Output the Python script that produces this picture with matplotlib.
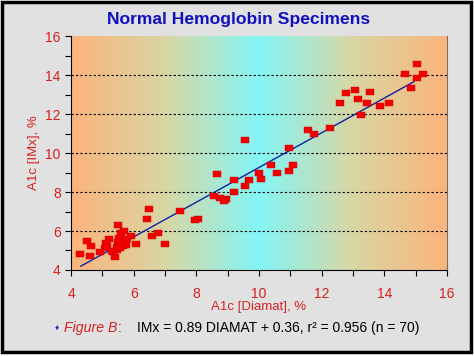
import numpy as np
import matplotlib.pyplot as plt
from matplotlib.colors import LinearSegmentedColormap
from matplotlib.patches import Rectangle
from matplotlib.path import Path

# A1c by Diamat (x) and by IMx (y)
diamat = [14.67, 15.05, 15.25, 15.05, 14.86, 12.78, 13.05, 13.54, 13.16, 12.57,
          13.46, 13.86, 14.16, 13.27, 12.25, 11.57, 11.76,
          9.56, 10.95, 11.08, 10.37, 9.99, 10.57, 10.95, 10.07, 8.67, 9.19,
          9.68, 9.56, 9.19, 8.56, 8.75, 8.96, 8.88, 7.47, 8.05, 7.95,
          6.50, 6.41, 5.49, 5.70, 5.58, 5.91, 6.57, 6.78, 6.99, 6.08,
          4.50, 4.62, 5.20, 5.10, 5.08, 5.52, 5.59, 5.70, 5.65, 5.45,
          5.75, 5.50, 5.33, 5.40, 4.92, 4.61, 4.29, 5.30, 5.62, 5.45,
          5.78, 5.55, 5.15]
imx = [14.05, 14.55, 14.05, 13.83, 13.35, 13.08, 13.25, 13.15, 12.77, 12.55,
       12.55, 12.43, 12.55, 11.95, 11.30, 11.16, 10.96,
       10.68, 10.26, 9.40, 9.40, 8.99, 8.99, 9.09, 8.65, 8.90, 8.60,
       8.60, 8.29, 8.00, 7.79, 7.70, 7.66, 7.52, 7.03, 6.63, 6.56,
       7.11, 6.62, 6.31, 6.02, 5.91, 5.73, 5.74, 5.91, 5.31, 5.31,
       5.50, 5.23, 5.60, 5.40, 5.12, 5.62, 5.37, 5.45, 5.25, 5.20,
       5.28, 5.45, 4.91, 4.68, 4.93, 4.72, 4.80, 4.95, 5.50, 5.05,
       5.60, 5.15, 5.25]

slope = 0.89
intercept = 0.36
fit_range = [4.31, 14.95]
grid_levels = [6, 8, 10, 12, 14]

title = 'Normal Hemoglobin Specimens'
xlab = 'A1c [Diamat], %'
ylab = 'A1c [IMx], %'
note_fig = 'Figure B'
note_eq = 'IMx = 0.89 DIAMAT + 0.36, r² = 0.956 (n = 70)'

red = '#D42020'
plt.rcParams['font.family'] = ['Liberation Sans', 'DejaVu Sans']

fig = plt.figure(figsize=(4.74, 3.56), dpi=100, facecolor='white')
fig.patches.append(Rectangle((0.004, 0.012), 0.989, 0.982, transform=fig.transFigure,
                             facecolor='#E1E1E1', edgecolor='black', linewidth=2.5, zorder=-10))

ax = fig.add_axes([0.150, 0.2416, 0.793, 0.657])
ax.set_xlim(4, 16)
ax.set_ylim(4, 16)

# horizontal orange -> cyan -> orange background
cmap = LinearSegmentedColormap.from_list('bg', ['#FBB47C', '#D8D6A4', '#84F6F6', '#D8D6A4', '#FBB47C'])
grad = np.linspace(0, 1, 256).reshape(1, -1)
ax.imshow(grad, cmap=cmap, extent=[4, 16, 4, 16], aspect='auto', zorder=0)

for g in grid_levels:
    ax.axhline(g, color='black', linestyle=(0, (2, 2)), linewidth=0.8, zorder=1)

fx = np.array(fit_range)
ax.plot(fx, slope * fx + intercept, color='#1020A0', linewidth=1.0, zorder=2)

rect = Path([(-1, -0.7), (1, -0.7), (1, 0.7), (-1, 0.7), (-1, -0.7)],
            [Path.MOVETO, Path.LINETO, Path.LINETO, Path.LINETO, Path.CLOSEPOLY])
ax.scatter(diamat, imx, marker=rect, s=34, color='#F20000', edgecolors='#D00000',
           linewidths=0.3, zorder=3)

ax.set_xticks(range(4, 17, 2))
ax.set_yticks(range(4, 17, 2))
ax.set_xticks(range(4, 17), minor=True)
ax.set_yticks(range(4, 17), minor=True)
ax.tick_params(which='both', direction='out', length=4, width=0.8, colors='black',
               labelcolor=red, labelsize=10)
ax.tick_params(axis='x', pad=8)
ax.spines['top'].set_visible(False)
ax.spines['right'].set_color('#707070')
ax.spines['left'].set_linewidth(0.8)
ax.spines['bottom'].set_linewidth(0.8)

ax.set_xlabel(xlab, color=red, fontsize=9.5, labelpad=0)
ax.set_ylabel(ylab, color=red, fontsize=9.5, labelpad=4)
fig.text(0.504, 0.944, title, color='#1010C0', fontsize=12.6, fontweight='bold',
         ha='center', va='center')

# footnote built from pieces
renderer = fig.canvas.get_renderer()
y_note = 0.078
fig.text(0.121, y_note, '♦', color='#1830C0', fontsize=6, ha='center', va='center')
t1 = fig.text(0.135, y_note, note_fig, color=red, fontsize=10.2, style='italic', va='center')
x1 = t1.get_window_extent(renderer).x1 / fig.bbox.width
fig.text(x1, y_note, ':', color='#303030', fontsize=10.2, va='center')
fig.text(0.289, y_note, note_eq, color='black', fontsize=10.0, va='center')

fig.savefig('out.png', dpi=100, facecolor=fig.get_facecolor())
